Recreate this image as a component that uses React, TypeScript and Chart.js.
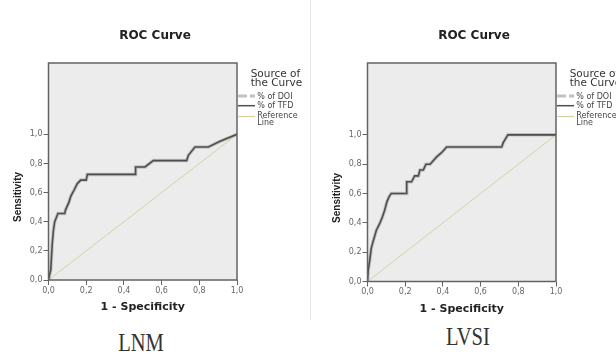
import React, { useEffect, useRef } from "react";
import { Chart, registerables } from "chart.js";

Chart.register(...registerables);

// ---- data ----
const CHART_TITLE = "ROC Curve";
const X_TITLE = "1 - Specificity";
const Y_TITLE = "Sensitivity";
const X_TICKS = [0, 0.2, 0.4, 0.6, 0.8, 1.0];
const Y_TICKS = [0, 0.2, 0.4, 0.6, 0.8, 1.0];
const LEGEND_TITLE = ["Source of", "the Curve"];
const SERIES_NAMES = ["% of DOI", "% of TFD", "Reference Line"];

// LNM panel (DOI and TFD curves coincide in the picture)
const LNM_FPR = [0, 0.005, 0.012, 0.015, 0.02, 0.026, 0.033, 0.05, 0.086, 0.09, 0.109, 0.118, 0.135, 0.153, 0.171, 0.2, 0.206, 0.459, 0.462, 0.512, 0.556, 0.733, 0.742, 0.777, 0.848, 0.91, 1.0];
const LNM_TPR = [0, 0.03, 0.07, 0.14, 0.25, 0.34, 0.4, 0.457, 0.457, 0.48, 0.536, 0.575, 0.616, 0.662, 0.686, 0.686, 0.725, 0.725, 0.776, 0.776, 0.82, 0.82, 0.856, 0.913, 0.913, 0.952, 1.0];

// LVSI panel
const LVSI_FPR = [0, 0.004, 0.012, 0.02, 0.029, 0.047, 0.065, 0.079, 0.091, 0.103, 0.114, 0.126, 0.206, 0.208, 0.234, 0.25, 0.27, 0.278, 0.296, 0.31, 0.332, 0.367, 0.394, 0.42, 0.712, 0.72, 0.745, 1.0];
const LVSI_TPR = [0, 0.078, 0.146, 0.226, 0.27, 0.35, 0.396, 0.44, 0.486, 0.543, 0.577, 0.6, 0.6, 0.68, 0.68, 0.72, 0.72, 0.76, 0.76, 0.8, 0.8, 0.85, 0.88, 0.917, 0.917, 0.947, 1.0, 1.0];

const REF_FPR = [0, 1];
const REF_TPR = [0, 1];

const PANEL_LABELS = ["LNM", "LVSI"];

// ---- helpers ----
const zip = (xs: number[], ys: number[]) => xs.map((x, i) => ({ x, y: ys[i] }));
const fmt = (v: number | string) => Number(v).toFixed(1).replace(".", ",");

const COLORS = {
  plotBg: "#ececec",
  box: "#636363",
  tfd: "#4e4e4e",
  doi: "#c2c2c2",
  ref: "#d6d1a0",
  tick: "#666666",
  text: "#222222",
};

type Geo = {
  left: number;
  width: number;
  height: number;
  yAxisWidth: number;
  xAxisHeight: number;
  rightSpace: number;
};

function RocPanel({ fpr, tpr, geo }: { fpr: number[]; tpr: number[]; geo: Geo }) {
  const ref = useRef<HTMLCanvasElement | null>(null);

  useEffect(() => {
    if (!ref.current) return;

    const decor = {
      id: "decor",
      beforeDraw(chart: any) {
        const { ctx, chartArea: a } = chart;
        ctx.save();
        ctx.fillStyle = COLORS.plotBg;
        ctx.fillRect(a.left, a.top, a.right - a.left, a.bottom - a.top);
        ctx.restore();
      },
      afterDraw(chart: any) {
        const { ctx, chartArea: a } = chart;
        ctx.save();
        // plot frame
        ctx.strokeStyle = COLORS.box;
        ctx.lineWidth = 1.5;
        ctx.strokeRect(a.left, a.top, a.right - a.left, a.bottom - a.top);

        // y axis title
        const yc = chart.scales.y.getPixelForValue(0.57);
        ctx.save();
        ctx.translate(a.left - 30, yc);
        ctx.rotate(-Math.PI / 2);
        ctx.font = "bold 10px 'Liberation Sans'";
        ctx.fillStyle = COLORS.text;
        ctx.textAlign = "center";
        ctx.textBaseline = "middle";
        ctx.fillText(Y_TITLE, 0, 0);
        ctx.restore();

        // legend
        const x0 = a.right;
        const t = a.top;
        ctx.fillStyle = "#333";
        ctx.textAlign = "left";
        ctx.textBaseline = "alphabetic";
        ctx.font = "10.5px 'DejaVu Sans'";
        ctx.fillText(LEGEND_TITLE[0], x0 + 13.7, t + 14.3);
        ctx.fillText(LEGEND_TITLE[1], x0 + 13.7, t + 22.7);

        const sample = (y: number, color: string, w: number, dash: number[]) => {
          ctx.save();
          ctx.strokeStyle = color;
          ctx.lineWidth = w;
          ctx.setLineDash(dash);
          ctx.beginPath();
          ctx.moveTo(x0 + 1, y);
          ctx.lineTo(x0 + 18, y);
          ctx.stroke();
          ctx.restore();
        };
        sample(t + 33, COLORS.doi, 3, [9, 3]);
        sample(t + 42.7, COLORS.tfd, 1.5, []);
        sample(t + 53.5, COLORS.ref, 1.2, []);

        ctx.font = "8px 'DejaVu Sans'";
        ctx.fillStyle = "#444";
        ctx.textBaseline = "middle";
        ctx.fillText(SERIES_NAMES[0], x0 + 20.3, t + 34);
        ctx.fillText(SERIES_NAMES[1], x0 + 20.3, t + 43);
        const refWords = SERIES_NAMES[2].split(" ");
        ctx.fillText(refWords[0], x0 + 20.3, t + 53);
        ctx.fillText(refWords[1], x0 + 20.3, t + 60);
        ctx.restore();
      },
    };

    const tickFont = { family: "'DejaVu Sans'", size: 8 };

    const chart = new Chart(ref.current, {
      type: "line",
      data: {
        datasets: [
          {
            label: SERIES_NAMES[1],
            data: zip(fpr, tpr),
            borderColor: COLORS.tfd,
            borderWidth: 1.6,
            pointRadius: 0,
            tension: 0,
            fill: false,
          },
          {
            label: SERIES_NAMES[0],
            data: zip(fpr, tpr),
            borderColor: COLORS.doi,
            borderWidth: 3.5,
            pointRadius: 0,
            tension: 0,
            fill: false,
          },
          {
            label: SERIES_NAMES[2],
            data: zip(REF_FPR, REF_TPR),
            borderColor: COLORS.ref,
            borderWidth: 1,
            pointRadius: 0,
            tension: 0,
            fill: false,
          },
        ],
      },
      options: {
        animation: false,
        responsive: true,
        maintainAspectRatio: false,
        events: [],
        layout: { padding: 0 },
        plugins: {
          legend: { display: false },
          tooltip: { enabled: false },
          title: {
            display: true,
            text: CHART_TITLE,
            color: COLORS.text,
            font: { family: "'DejaVu Sans'", size: 12, weight: "bold" },
            padding: { top: 28.5, bottom: 20.1 },
          },
        },
        scales: {
          x: {
            type: "linear",
            min: 0,
            max: 1,
            afterBuildTicks: (s: any) => {
              s.ticks = X_TICKS.map((v) => ({ value: v }));
            },
            afterFit: (s: any) => {
              s.height = geo.xAxisHeight;
            },
            ticks: {
              callback: (v: any) => fmt(v),
              font: tickFont,
              color: COLORS.tick,
              padding: 1,
              autoSkip: false,
              maxRotation: 0,
            },
            grid: { display: true, drawOnChartArea: false, drawTicks: true, tickLength: 5, color: COLORS.box },
            border: { display: false },
            title: {
              display: true,
              text: X_TITLE,
              color: COLORS.text,
              font: { family: "'DejaVu Sans'", size: 11, weight: "bold" },
              padding: { top: 0, bottom: 6.4 },
            },
          },
          y: {
            type: "linear",
            min: 0,
            max: 1.49,
            afterBuildTicks: (s: any) => {
              s.ticks = Y_TICKS.map((v) => ({ value: v }));
            },
            afterFit: (s: any) => {
              s.width = geo.yAxisWidth;
            },
            ticks: {
              callback: (v: any) => fmt(v),
              font: tickFont,
              color: COLORS.tick,
              padding: 1,
              autoSkip: false,
            },
            grid: { display: true, drawOnChartArea: false, drawTicks: true, tickLength: 5, color: COLORS.box },
            border: { display: false },
          },
          // empty right-hand box that reserves room for the legend
          legendSpace: {
            type: "linear",
            position: "right",
            display: true,
            min: 0,
            max: 1,
            afterFit: (s: any) => {
              s.width = geo.rightSpace;
            },
            ticks: { display: false },
            grid: { display: false },
            border: { display: false },
          },
        },
      } as any,
      plugins: [decor],
    });

    return () => chart.destroy();
  }, [fpr, tpr, geo]);

  return (
    <div
      style={{
        position: "absolute",
        left: geo.left,
        top: 0,
        width: geo.width,
        height: geo.height,
      }}
    >
      <canvas ref={ref} />
    </div>
  );
}

const GEO_LEFT: Geo = { left: 0, width: 310, height: 320, yAxisWidth: 48.5, xAxisHeight: 40, rightSpace: 73 };
const GEO_RIGHT: Geo = { left: 332, width: 284, height: 322, yAxisWidth: 35.5, xAxisHeight: 40.5, rightSpace: 60 };

const labelStyle = (centerX: number, top: number): React.CSSProperties => ({
  position: "absolute",
  left: centerX - 100,
  top,
  width: 200,
  textAlign: "center",
  fontFamily: "'Liberation Serif', serif",
  fontSize: 26,
  lineHeight: "26px",
  color: "#333",
  transform: "scaleX(0.79)",
  transformOrigin: "center",
});

export default function App() {
  return (
    <div
      style={{
        position: "fixed",
        left: 0,
        top: 0,
        width: 616,
        height: 354,
        background: "#ffffff",
        overflow: "hidden",
      }}
    >
      <RocPanel fpr={LNM_FPR} tpr={LNM_TPR} geo={GEO_LEFT} />
      <RocPanel fpr={LVSI_FPR} tpr={LVSI_TPR} geo={GEO_RIGHT} />
      <div style={{ position: "absolute", left: 310, top: 0, width: 1, height: 320, background: "#e4e4e4" }} />
      <div style={labelStyle(141, 329.8)}>{PANEL_LABELS[0]}</div>
      <div style={labelStyle(468, 323.8)}>{PANEL_LABELS[1]}</div>
    </div>
  );
}
